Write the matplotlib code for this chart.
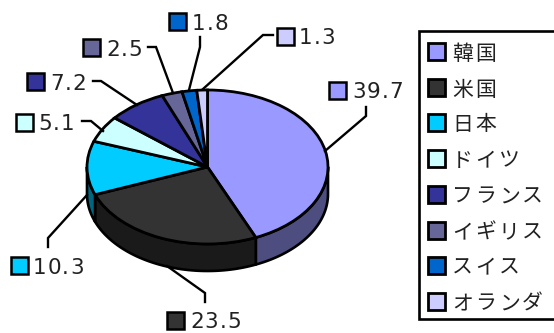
import matplotlib
matplotlib.use('Agg')

import numpy as np
from matplotlib import pyplot
from matplotlib.patches import Polygon, Rectangle

plot_font = ['DejaVu Sans', 'Noto Sans CJK JP']
pyplot.rcParams['font.family'] = plot_font

countries = ['韓国', '米国', '日本', 'ドイツ', 'フランス', 'イギリス', 'スイス', 'オランダ']
shares = [39.7, 23.5, 10.3, 5.1, 7.2, 2.5, 1.8, 1.3]
colors = ['#9999FF', '#333333', '#00CCFF', '#CCFFFF',
          '#333399', '#666699', '#0066CC', '#CCCCFF']
side_colors = ['#4D4D80', '#1A1A1A', '#006680', '#668080',
               '#1A1A4D', '#33334D', '#003366', '#666680']

# swatch left/top and text left of each value label, pixels
label_pos = [(329, 82, 352), (167, 312, 190), (11, 257, 33), (16, 114, 38),
             (27, 73, 50), (83, 39, 106), (169, 13, 192), (277, 28, 299)]
leaders = [
    [(366, 107), (366, 116), (325, 151)],
    [(205, 302), (205, 293), (167, 266)],
    [(48, 247), (48, 238), (87, 195)],
    [(82, 121), (91, 121), (103, 131)],
    [(93, 81), (101, 81), (137, 105)],
    [(148, 47), (156, 47), (173, 93)],
    [(200, 37), (200, 47), (189, 90)],
    [(273, 35), (263, 35), (203, 89)],
]
legend_rows = [51, 87, 122, 158, 194, 230, 265, 301]

width, height = 554, 333
pie_left, pie_top, pie_w, pie_h = 87, 90, 241, 154
depth = 27 / (pie_h / 2)

fig = pyplot.figure(figsize=(width / 100, height / 100), dpi=100)
ax = fig.add_axes([pie_left / width, (height - pie_top - pie_h) / height,
                   pie_w / width, pie_h / height])

# rim of the disc, only the front half can be seen
edges = np.cumsum([0] + shares) / sum(shares) * 360
for i in range(len(shares)):
    start, stop = max(edges[i], 90), min(edges[i + 1], 270)
    if start >= stop:
        continue
    theta = np.radians(np.linspace(start, stop, 60))
    x, y = np.sin(theta), np.cos(theta)
    points = np.concatenate([np.column_stack([x, y]),
                             np.column_stack([x, y - depth])[::-1]])
    ax.add_patch(Polygon(points, closed=True, facecolor=side_colors[i],
                         edgecolor='black', linewidth=1.9, clip_on=False,
                         joinstyle='round'))

wedges, _ = ax.pie(shares, colors=colors, startangle=90, counterclock=False,
                   radius=1,
                   wedgeprops={'edgecolor': 'black', 'linewidth': 2.0})
for wedge in wedges:
    wedge.set_clip_on(False)
ax.set_aspect('auto')
ax.set_xlim(-1, 1)
ax.set_ylim(-1, 1)

# value labels and legend are placed in pixels on a full-size overlay
over = fig.add_axes([0, 0, 1, 1], facecolor='none')
over.set_xlim(0, width)
over.set_ylim(height, 0)
over.axis('off')
renderer = fig.canvas.get_renderer()


def spaced_text(x, y, string, gap, **kwargs):
    # one text per character, the fonts run tighter than wanted
    for char in string:
        t = over.text(x, y, char, ha='left', va='center_baseline', **kwargs)
        x += t.get_window_extent(renderer).width + gap


for line in leaders:
    xs, ys = zip(*line)
    over.plot(xs, ys, color='black', lw=1.7, solid_joinstyle='miter',
              clip_on=False)

for value, color, (sx, sy, tx) in zip(shares, colors, label_pos):
    over.add_patch(Rectangle((sx, sy), 17, 17, facecolor=color,
                             edgecolor='black', linewidth=1.8))
    spaced_text(tx, sy + 8.5, f'{value}', 1.0, fontsize=15.5, color='#222222')

over.add_patch(Rectangle((419, 31), 150, 288, facecolor='white',
                         edgecolor='black', linewidth=1.9))
for name, color, y in zip(countries, colors, legend_rows):
    over.add_patch(Rectangle((428, y - 8.5), 17, 17, facecolor=color,
                             edgecolor='black', linewidth=2.0))
    spaced_text(452, y, name, 2.5, fontsize=15, color='#222222',
                family=['Noto Sans CJK JP', 'DejaVu Sans'])

fig.savefig('out.png', dpi=100)
pyplot.close()
